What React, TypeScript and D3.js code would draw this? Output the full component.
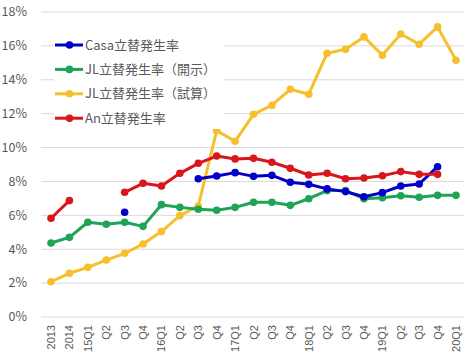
import React from "react";
import * as d3 from "d3";

const categories = ["2013","2014","15Q1","Q2","Q3","Q4","16Q1","Q2","Q3","Q4","17Q1","Q2","Q3","Q4","18Q1","Q2","Q3","Q4","19Q1","Q2","Q3","Q4","20Q1"];
const casa: (number|null)[] = [null,null,null,null,6.18,null,null,null,8.16,8.32,8.52,8.3,8.36,7.95,7.83,7.56,7.4,7.1,7.34,7.73,7.85,8.87,null];
const jlOpen: (number|null)[] = [4.37,4.7,5.59,5.47,5.59,5.35,6.63,6.47,6.36,6.3,6.47,6.77,6.77,6.59,6.98,7.46,7.46,6.98,7.04,7.16,7.07,7.18,7.18];
const jlEst: (number|null)[] = [2.08,2.58,2.93,3.36,3.76,4.31,5.04,5.98,6.55,11.0,10.37,11.96,12.5,13.44,13.15,15.57,15.8,16.53,15.45,16.7,16.1,17.12,15.15];
const an: (number|null)[] = [5.83,6.87,null,null,7.36,7.89,7.73,8.48,9.07,9.5,9.33,9.37,9.13,8.78,8.38,8.48,8.16,8.2,8.34,8.58,8.42,8.42,null];
const yTicks = [0,2,4,6,8,10,12,14,16,18];

const series = [
  { name: "Casa立替発生率", values: casa, color: "#0000C8" },
  { name: "JL立替発生率（開示）", values: jlOpen, color: "#1FA356" },
  { name: "JL立替発生率（試算）", values: jlEst, color: "#F5C02C" },
  { name: "An立替発生率", values: an, color: "#D8161B" },
];

const drawOrder = [2, 1, 0, 3];

export default function App() {
  const W = 464, H = 358;
  const x = d3.scaleBand<number>().domain(categories.map((_, i) => i)).range([41.8, 465.2]).padding(0);
  const cx = (i: number) => (x(i) as number) + x.bandwidth() / 2;
  const y = d3.scaleLinear().domain([0, 18]).range([317, 12]);
  const font = "'Noto Sans CJK JP', 'Noto Sans', sans-serif";
  const axFont = "'Liberation Sans', Arial, sans-serif";
  const line = d3.line<number | null>()
    .defined(d => d != null)
    .x((_, i) => cx(i))
    .y(d => y(d as number));

  return (
    <svg width={W} height={H} style={{ position: "absolute", left: 0, top: 0, background: "#fff" }}>
      <rect x={0} y={0} width={W} height={H} fill="#fff" />
      {yTicks.map(t => (
        <g key={t}>
          <line x1={41} x2={464} y1={y(t)} y2={y(t)} stroke="#D9D9D9" strokeWidth={1} />
          <text x={27} y={y(t)} dy="0.35em" textAnchor="end" fontSize={12.5} fill="#595959" fontFamily={font}>{t}%</text>
        </g>
      ))}
      {categories.map((c, i) => (
        <text key={i} transform={`translate(${cx(i) + 4},${325}) rotate(-90)`} textAnchor="end" fontSize={11} fill="#595959" fontFamily={axFont}>{c}</text>
      ))}
      {drawOrder.map(si => {
        const s = series[si];
        return (
          <g key={s.name}>
            <path d={line(s.values) || ""} fill="none" stroke={s.color} strokeWidth={3} strokeLinejoin="round" />
            {s.values.map((v, i) => v == null ? null : (
              <circle key={i} cx={cx(i)} cy={y(v)} r={3.8} fill={s.color} />
            ))}
          </g>
        );
      })}
      <rect x={54} y={33} width={170} height={96} fill="#fff" />
      {series.map((s, i) => {
        const ly = 45 + i * 24.4;
        return (
          <g key={s.name}>
            <line x1={55} x2={83} y1={ly} y2={ly} stroke={s.color} strokeWidth={3} />
            <circle cx={69.5} cy={ly} r={3.8} fill={s.color} />
            <text x={85} y={ly} dy="0.35em" fontSize={13} fill="#595959" fontFamily={font}>{s.name}</text>
          </g>
        );
      })}
    </svg>
  );
}
